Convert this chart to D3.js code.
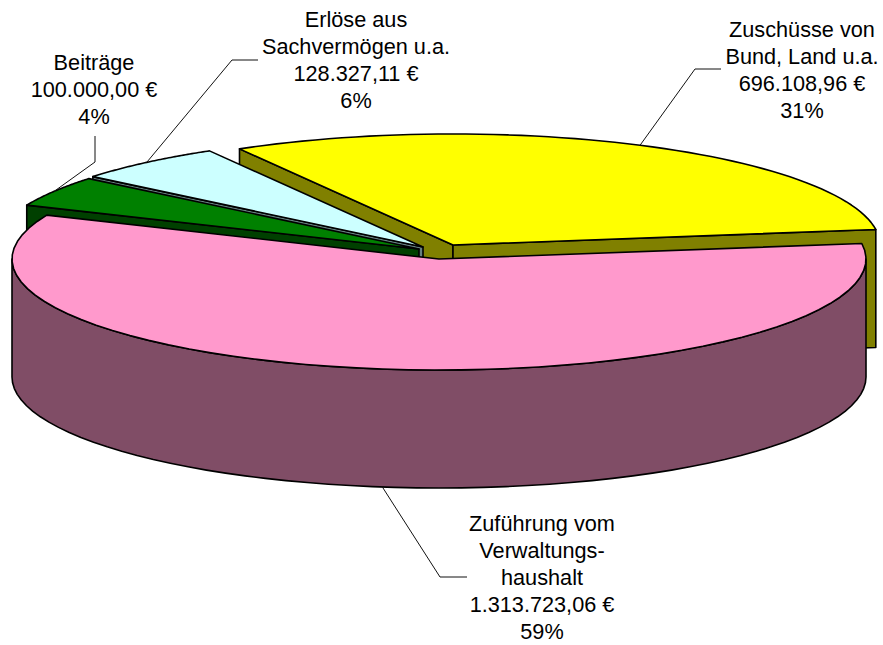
<!DOCTYPE html>
<html>
<head>
<meta charset="utf-8">
<script src="https://cdn.jsdelivr.net/npm/d3@7"></script>
<style>
  html, body { margin: 0; padding: 0; background: #fff; }
  text { font-family: "Liberation Sans", Arial, sans-serif; font-size: 21.7px; fill: #000; }
</style>
</head>
<body>
<div id="container"></div>
<script>
// clockwise from the back right, same order as the slices in the picture
const categories = ["Zuschüsse", "Zuführung", "Beiträge", "Erlöse"];
const values = [696108.96, 1313723.06, 100000.00, 128327.11];
const labelLines = [
  ["Zuschüsse von", "Bund, Land u.a."],
  ["Zuführung vom", "Verwaltungs-", "haushalt"],
  ["Beiträge"],
  ["Erlöse aus", "Sachvermögen u.a."]
];

const width = 883;
const height = 645;
const center = { x: 439, y: 259 };
const radius = { x: 427, y: 111 };
const depth = 118;

const topColors = ["#ffff00", "#ff99cc", "#008000", "#ccffff"];
const wallColors = ["#808000", "#804d66", "#004000", "#668080"];
// how far each slice is pulled out of the pie, pixels
const explode = [[14, -14], [0, 0], [-20, -10], [-16, -12]];
// leader line: elbow and end
const leaders = [
  [[695, 69], [721, 69]],
  [[440, 577], [467, 577]],
  [[95, 162], [95, 136]],
  [[232, 60], [258, 60]]
];
// middle of the text block and first baseline
const labelPos = [[802, 37], [542, 531], [94, 70], [356, 27]];

const rad = (d) => d * Math.PI / 180;
const fmt = d3.formatLocale({ decimal: ",", thousands: ".", grouping: [3], currency: ["", " €"] });
const money = fmt.format("$,.2f");

const total = d3.sum(values);
const start = rad(-30);
const pie = d3.pie().sort(null).startAngle(start).endAngle(start + 2 * Math.PI);
const slices = pie(values);

const xScale = d3.scaleLinear().domain([-1, 1]).range([center.x - radius.x, center.x + radius.x]);
const yScale = d3.scaleLinear().domain([-1, 1]).range([center.y + radius.y, center.y - radius.y]);

// point on the top face of slice i, r = 0 is the tip, r = 1 the rim
const pt = (i, a, r, down) => [
  xScale(r * Math.sin(a)) + explode[i][0],
  yScale(r * Math.cos(a)) + explode[i][1] + (down ? depth : 0)
];
const arcPts = (i, a0, a1, down) => d3.range(0, 61).map((k) => pt(i, a0 + (a1 - a0) * k / 60, 1, down));

const line = d3.line();
const svg = d3.select("#container")
              .append("svg")
              .attr("width", width)
              .attr("height", height)
              .style("display", "block");

const faces = svg.append("g")
                 .attr("stroke", "#000")
                 .attr("stroke-width", 1.6)
                 .attr("stroke-linejoin", "round");

// back slices first, the big one has to cover the others
[0, 3, 2, 1].forEach((i) => {
  const a0 = slices[i].startAngle;
  const a1 = slices[i].endAngle;

  // a cut face only shows when it looks towards the viewer
  const cutFace = (a) => [pt(i, a, 0), pt(i, a, 1), pt(i, a, 1, true), pt(i, a, 0, true)];
  if (Math.sin(a0) < 0) {
    faces.append("path").attr("d", line(cutFace(a0)) + "Z").attr("fill", wallColors[i]);
  }
  if (Math.sin(a1) > 0) {
    faces.append("path").attr("d", line(cutFace(a1)) + "Z").attr("fill", wallColors[i]);
  }

  // outer wall, visible only on the front half
  const w0 = Math.max(a0, Math.PI / 2);
  const w1 = Math.min(a1, 3 * Math.PI / 2);
  if (w1 > w0) {
    const wall = arcPts(i, w0, w1, false).concat(arcPts(i, w1, w0, true));
    faces.append("path").attr("d", line(wall) + "Z").attr("fill", wallColors[i]);
  }

  const top = [pt(i, a0, 0)].concat(arcPts(i, a0, a1, false));
  faces.append("path").attr("d", line(top) + "Z").attr("fill", topColors[i]);
});

const leaderG = svg.append("g").attr("fill", "none").attr("stroke", "#111").attr("stroke-width", 1);
slices.forEach((s, i) => {
  const mid = (s.startAngle + s.endAngle) / 2;
  const anchor = pt(i, mid, 1, Math.cos(mid) < 0);
  leaderG.append("path").attr("d", line([anchor].concat(leaders[i])));
});

const labels = svg.append("g").attr("text-anchor", "middle");
slices.forEach((s, i) => {
  const lines = labelLines[i].concat([money(values[i]), Math.round(values[i] / total * 100) + "%"]);
  const t = labels.append("text")
                  .attr("aria-label", categories[i])
                  .attr("transform", "translate(" + labelPos[i][0] + "," + labelPos[i][1] + ")");
  t.selectAll("tspan")
   .data(lines)
   .enter()
   .append("tspan")
   .attr("x", 0)
   .attr("y", (d, k) => k * 27)
   .text((d) => d);
});
</script>
</body>
</html>
